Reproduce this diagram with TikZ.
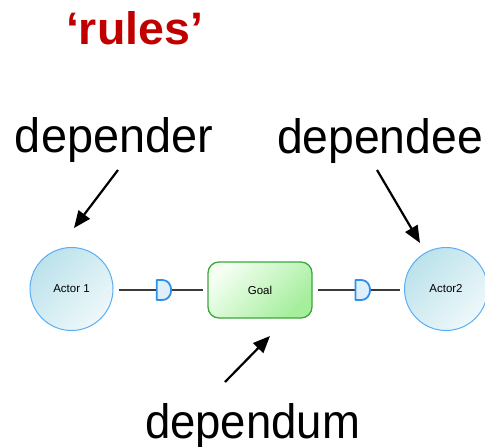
\documentclass[tikz,border=0pt]{standalone}
\usepackage{fontspec}
\setmainfont{Liberation Sans}
\usetikzlibrary{arrows.meta}
\definecolor{rulesred}{HTML}{C00000}
\definecolor{actorline}{HTML}{5AAEF5}
\definecolor{actordark}{HTML}{BCE2EB}
\definecolor{actorlight}{HTML}{EEF8FA}
\definecolor{goalline}{HTML}{3BA83B}
\definecolor{goallight}{HTML}{F4FFF2}
\definecolor{goaldark}{HTML}{A4EE9C}
\definecolor{linkgray}{HTML}{3A3A3A}
\definecolor{dfill}{HTML}{DDF0FC}
\definecolor{dline}{HTML}{2F8FEA}
\tikzset{
  actor/.style={circle, draw=actorline, line width=1pt, minimum size=83pt,
    inner sep=0pt, shading=axis, left color=actordark, right color=actorlight,
    shading angle=45, font=\fontsize{11.5}{13}\selectfont},
  goalbox/.style={rectangle, rounded corners=11pt, draw=goalline, line width=1.3pt,
    minimum width=104pt, minimum height=56pt, inner sep=0pt, shading=axis,
    left color=goallight, right color=goaldark, shading angle=45,
    font=\fontsize{11.5}{13}\selectfont},
  link/.style={draw=linkgray, line width=1.4pt, shorten <=5pt, shorten >=4pt},
  label/.style={anchor=base west, inner sep=0pt, outer sep=0pt},
  pointer/.style={line width=2.2pt, -{Triangle[length=17pt,width=14pt]}},
  dmark/.pic={
    \draw[draw=dline, fill=dfill, line width=1.8pt, line join=round]
      (0,-10) -- (6,-10) to[out=0,in=90] (14.5,0) to[out=-90,in=0] (6,10) -- (0,10) -- cycle;
  }
}
\begin{document}
\begin{tikzpicture}[x=1pt, y=-1pt]
  \useasboundingbox (0,0) rectangle (485,447);

  % title
  \node[label, text=rulesred] (rules) at (66,45)
    {\resizebox{137pt}{33pt}{\bfseries ‘rules’}};

  % role labels
  \node[label] (depender) at (15,152) {\resizebox{198pt}{35pt}{depender}};
  \node[label] (dependee) at (277,153) {\resizebox{206pt}{35pt}{dependee}};
  \node[label] (dependum) at (145,438) {\resizebox{215pt}{35pt}{dependum}};

  % actors and goal
  \node[actor] (a1) at (71.5,289) {Actor 1};
  \node[goalbox] (g) at (260,290) {Goal};
  \node[actor] (a2) at (446,289) {Actor2};

  % dependency links with their D marks
  \draw[link] (a1.east |- 0,290) -- (g.west);
  \draw[link] (g.east) -- (a2.west |- 0,290);
  \path (a1.east |- 0,290) -- (g.west) pic[pos=0.46] {dmark};
  \path (g.east) -- (a2.west |- 0,290) pic[pos=0.47] {dmark};

  % pointers from the labels
  \coordinate (p1s) at (118,170);
  \coordinate (p1e) at (74,228);
  \coordinate (p2s) at (377,170);
  \coordinate (p2e) at (420,243);
  \coordinate (p3s) at (225,382);
  \coordinate (p3e) at (270,336);
  \draw[pointer] (p1s) -- (p1e);
  \draw[pointer] (p2s) -- (p2e);
  \draw[pointer] (p3s) -- (p3e);
\end{tikzpicture}
\end{document}
